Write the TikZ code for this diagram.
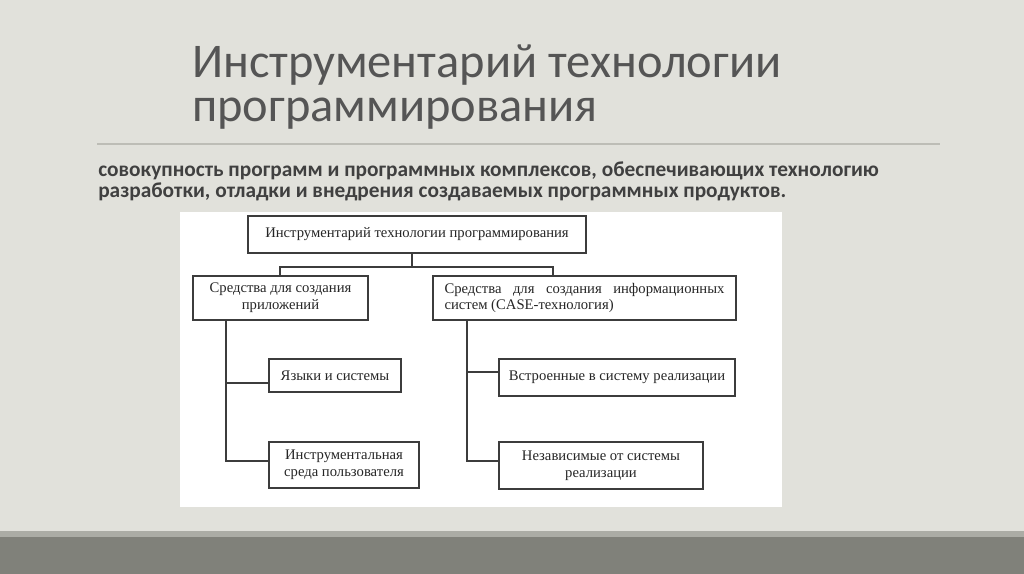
\documentclass[tikz,border=0pt]{standalone}
\usepackage{fontspec}
\setmainfont{Liberation Serif}
\newfontfamily\slidefont{Carlito}
\usetikzlibrary{positioning,calc}
\definecolor{slidebg}{HTML}{E1E1DB}
\definecolor{bandlight}{HTML}{ABACA5}
\definecolor{banddark}{HTML}{80817A}
\definecolor{titlegray}{HTML}{555555}
\definecolor{textgray}{HTML}{404040}
\definecolor{rulegray}{HTML}{BDBDB6}
\definecolor{linegray}{HTML}{3C3C3C}
\tikzset{
	blk/.style={draw=linegray, line width=1pt, fill=white, inner sep=0pt,
		align=center, font=\fontsize{11}{12.5}\selectfont, text=black!85},
	wh/.style 2 args={minimum width=#1*0.75pt, minimum height=#2*0.75pt},
	conn/.style={draw=linegray, line width=1pt},
}
\begin{document}
\begin{tikzpicture}[
	x=0.75pt,y=-0.75pt,
	line cap=rect,line join=miter
	]
	% ---- slide
	\useasboundingbox (0,0) rectangle (1024,574);
	\fill[slidebg] (0,0) rectangle (1024,574);
	\fill[bandlight] (0,531) rectangle (1024,537);
	\fill[banddark] (0,537) rectangle (1024,574);
	
	% title + rule
	\node[anchor=base west, inner sep=0pt, text=titlegray,
	font=\slidefont\fontsize{36.3}{36}\selectfont] (title1) at (192,78) {Инструментарий технологии};
	\node[anchor=base west, inner sep=0pt, text=titlegray,
	font=\slidefont\fontsize{36.3}{36}\selectfont] (title2) at (192,122) {программирования};
	\draw[rulegray, line width=1pt] (98,144) -- (939,144);
	
	% definition text
	\node[anchor=base west, inner sep=0pt, text=textgray,
	font=\slidefont\bfseries\fontsize{16}{18}\selectfont] (def1) at (98,176)
	{совокупность программ и программных комплексов, обеспечивающих технологию};
	\node[anchor=base west, inner sep=0pt, text=textgray,
	font=\slidefont\bfseries\fontsize{16}{18}\selectfont] (def2) at (98,198)
	{разработки, отладки и внедрения создаваемых программных продуктов.};
	
	% ---- diagram panel
	\fill[white] (180,212) rectangle (782,507);
	
	\node[blk, wh={338}{37}] (root) at (417,234.5) {Инструментарий технологии программирования};
	\node[blk, wh={175}{44}] (appl) at (280.5,298) {Средства для создания\\приложений};
	\node[blk, wh={303}{44}, text width=280*0.75pt, inner xsep=11.5*0.75pt, align=justify]
	(info) at (584.5,298) {Средства для создания информационных\linebreak систем (CASE-технология)};
	\node[blk, wh={132}{33}] (lang) at (335,375.5) {Языки и системы};
	\node[blk, wh={150}{46}] (env) at (344,465) {Инструментальная\\среда пользователя};
	\node[blk, wh={236}{37}] (built) at (617,377.5) {Встроенные в систему реализации};
	\node[blk, wh={204}{47}] (indep) at (601,465.5) {Независимые от системы\\реализации};
	
	% connectors
	\coordinate (hub) at (412,267);
	\coordinate (hubL) at (280,267);
	\coordinate (hubR) at (553,267);
	\draw[conn] (root.south -| hub) -- (hub);
	\draw[conn] (hubL |- appl.north) -- (hubL) -- (hubR) -- (hubR |- info.north);
	
	\coordinate (trunkL) at (226,461);
	\coordinate (stubL) at (226,383);
	\draw[conn] (appl.south -| trunkL) -- (trunkL) -- (trunkL -| env.west);
	\draw[conn] (stubL) -- (stubL -| lang.west);
	
	\coordinate (trunkR) at (467,461);
	\coordinate (stubR) at (467,372);
	\draw[conn] (info.south -| trunkR) -- (trunkR) -- (trunkR -| indep.west);
	\draw[conn] (stubR) -- (stubR -| built.west);
\end{tikzpicture}
\end{document}
